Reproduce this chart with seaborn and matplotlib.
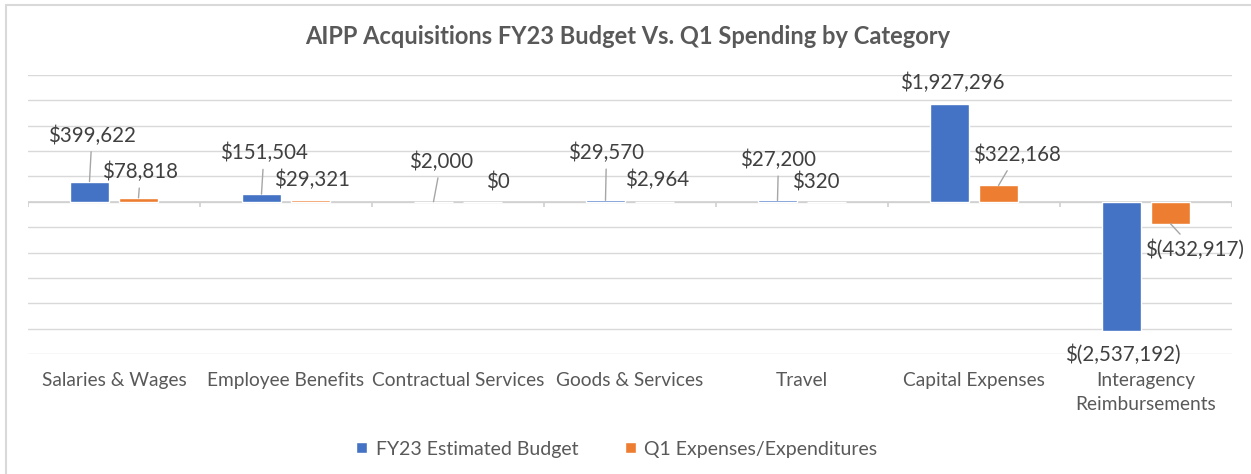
import matplotlib
matplotlib.use("Agg")
import matplotlib.pyplot as plt
import seaborn as sns
import pandas as pd
from matplotlib.patches import Rectangle

categories = ["Salaries & Wages", "Employee Benefits", "Contractual Services",
              "Goods & Services", "Travel", "Capital Expenses",
              "Interagency\nReimbursements"]
budget = [399622, 151504, 2000, 29570, 27200, 1927296, -2537192]
spent = [78818, 29321, 0, 2964, 320, 322168, -432917]
series = ["FY23 Estimated Budget", "Q1 Expenses/Expenditures"]

# label offsets in pixels from bar end (dx, dy) and whether a leader line shows
budget_offsets = [(2.5, 46), (2.5, 41), (7.5, 40), (1, 47.5), (1, 40.6), (2.5, 21), (1, -24)]
budget_lines = [True, True, True, True, True, False, False]
spent_offsets = [(2, 26), (1.5, 20.5), (15, 19), (3, 22), (-11, 19), (18, 30.6), (24, -26)]
spent_lines = [True, False, False, False, False, True, True]

blue = "#4472C4"
orange = "#ED7D31"
grey_text = "#595959"

df = pd.DataFrame({
    "category": categories * 2,
    "amount": budget + spent,
    "series": [series[0]] * len(categories) + [series[1]] * len(categories),
})

sns.set_style("white")
plt.rcParams["font.family"] = ["Lato", "DejaVu Sans"]

fig = plt.figure(figsize=(12.51, 4.74), dpi=100)
ax = fig.add_axes([28 / 1251, 1 - 354 / 474, (1232 - 28) / 1251, (354 - 75) / 474])

sns.barplot(data=df, x="category", y="amount", hue="series",
            palette=[blue, orange], width=0.57, gap=0.2, saturation=1,
            ax=ax, zorder=3)

ax.set_xlim(-0.5, len(categories) - 0.5)
ax.set_ylim(-3000000, 2500000)
ax.set_yticks(range(-3000000, 2500001, 500000))
ax.yaxis.grid(True, color="#d9d9d9", linewidth=1, zorder=0)
ax.set_yticklabels([])
ax.tick_params(axis="y", length=0)
ax.tick_params(axis="x", length=0, pad=13, labelsize=13.8, labelcolor=grey_text)
for lbl in ax.get_xticklabels():
    lbl.set_linespacing(1.5)
ax.set_xlabel("")
ax.set_ylabel("")
for s in ax.spines.values():
    s.set_visible(False)

ax.axhline(0, color="#d0d0d0", linewidth=1.2, zorder=2)
ax.vlines([i - 0.5 for i in range(len(categories) + 1)], 0, -100000,
          color="#d0d0d0", linewidth=1.2, zorder=2)


def fmt(v):
    return f"${v:,}" if v >= 0 else f"$({-v:,})"


for cont, vals, offs, lines in zip(ax.containers, [budget, spent],
                                   [budget_offsets, spent_offsets],
                                   [budget_lines, spent_lines]):
    for bar, v, off, ln in zip(cont, vals, offs, lines):
        x = bar.get_x() + bar.get_width() / 2
        ax.annotate(fmt(v), xy=(x, v), xytext=off, textcoords="offset pixels",
                    ha="center", va="center", fontsize=14.8, color="#404040",
                    arrowprops=dict(arrowstyle="-", color="#a6a6a6", lw=1,
                                    shrinkA=2, shrinkB=0) if ln else None,
                    zorder=5)

h, l = ax.get_legend_handles_labels()
ax.get_legend().remove()
fig.legend(h, l, loc="center", bbox_to_anchor=(617 / 1251, 1 - 449 / 474),
           ncol=2, frameon=False, fontsize=14, handlelength=0.55,
           handleheight=0.55, handletextpad=0.45, columnspacing=2.4,
           labelcolor=grey_text)

fig.text(628 / 1251, 1 - 37 / 474,
         "AIPP Acquisitions FY23 Budget Vs. Q1 Spending by Category",
         ha="center", va="center", fontsize=17, fontweight="bold", color=grey_text)

fig.patches.append(Rectangle((6 / 1251, -0.05), 1.1, 1 - 5 / 474 + 0.05,
                             transform=fig.transFigure, fill=False,
                             edgecolor="#d9d9d9", linewidth=1.5))

fig.savefig("out.png", dpi=100)
